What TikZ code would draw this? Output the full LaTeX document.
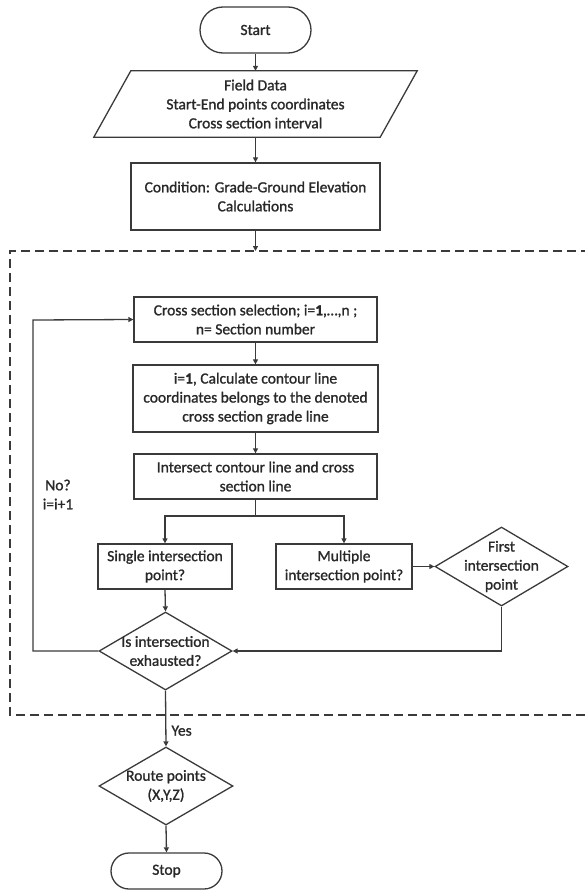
\documentclass[tikz,border=0pt]{standalone}
\usepackage{fontspec}
\setmainfont{Carlito}[FakeBold=1.2]
\usetikzlibrary{shapes.geometric,shapes.misc,arrows.meta,calc}
\definecolor{lc}{HTML}{3A3A3A}
\definecolor{tc}{HTML}{282828}
\newcommand\diagfont{\fontsize{15.5}{19}\selectfont\addfontfeature{FakeBold=1.2}}
\begin{document}
\begin{tikzpicture}[x=1pt,y=-1pt,
  line/.style={draw=lc, line width=1.3pt},
  arr/.style={line, -{Triangle[length=5pt,width=5pt]}},
  base/.style={align=center, font=\diagfont, text=tc, inner sep=1pt},
  box/.style={base, draw=lc, line width=1.3pt, rectangle},
  term/.style={base, draw=lc, line width=1.3pt, rounded rectangle},
  dia/.style={draw=lc, line width=1.3pt, diamond, inner sep=0pt},
  dtext/.style={base},
  lbl/.style={base}
]
\useasboundingbox (0,0) rectangle (584,891);

% dashed frame
\draw[draw=lc, line width=1.3pt, dash pattern=on 9pt off 5pt]
  (590,251) -- (10,251) -- (10,715) -- (590,715);

\node[term, minimum width=113, minimum height=46] (start) at (255.5,30) {Start};

\node[base, minimum width=323, minimum height=66] (field) at (255.5,104)
  {Field Data\\Start-End points coordinates\\Cross section interval};
\draw[line] ($(field.north west)+(37,0)$) -- (field.north east)
  -- ($(field.south east)+(-37,0)$) -- (field.south west) -- cycle;

\node[box, minimum width=249, minimum height=67] (cond) at (255.5,196.5)
  {Condition: Grade-Ground Elevation\\Calculations};
\coordinate (dtop) at (255.5,251);

\node[box, minimum width=243, minimum height=45] (cross) at (255.5,319.5)
  {Cross section selection; i=\textbf{1},…,n ;\\n= Section number};
\node[box, minimum width=245, minimum height=67] (calc) at (255.5,398.5)
  {i=\textbf{1}, Calculate contour line\\coordinates belongs to the denoted\\cross section grade line};
\node[box, minimum width=243, minimum height=45] (inter) at (255.5,476.5)
  {Intersect contour line and cross\\section line};
\coordinate (br) at (255.5,516);

\node[box, minimum width=134, minimum height=45] (single) at (165,566.5)
  {Single intersection\\point?};
\node[box, minimum width=136, minimum height=45] (multi) at (344,566.5)
  {Multiple\\intersection point?};
\node[dia, minimum width=133, minimum height=79,
  label={[dtext]center:First\\intersection\\point}] (first) at (501.5,566.5) {};
\node[dia, minimum width=133, minimum height=78,
  label={[dtext]center:Is intersection\\exhausted?}] (exh) at (165.5,651) {};
\coordinate (loopc) at (33,320);
\node[lbl] (nolbl) at (58,494.5) {No?\\i=i+1};

\node[dia, minimum width=134, minimum height=78,
  label={[dtext]center:Route points\\(X,Y,Z)}] (route) at (166,786) {};
\node[term, minimum width=113, minimum height=36] (stop) at (166.5,871) {Stop};

% connectors
\draw[arr] (start.south) -- (field.north);
\draw[arr] (field.south) -- (cond.north);
\draw[arr] (cond.south) -- (dtop);
\draw[arr] (cross.south) -- (calc.north);
\draw[arr] (calc.south) -- (inter.north);
\draw[line] (inter.south) -- (br);
\draw[arr] (br) -| (single.north);
\draw[arr] (br) -| (multi.north);
\draw[arr] (single.south) -- (exh.north);
\draw[arr] (multi.east) -- (first.west);
\draw[arr] (first.south) |- (exh.east);
\draw[arr] (exh.west) -| (loopc) -- (cross.west);
\draw[arr] (exh.south) -- node[lbl, pos=0.72, right=4pt] {Yes} (route.north);
\draw[arr] (route.south) -- (stop.north);
\end{tikzpicture}
\end{document}
